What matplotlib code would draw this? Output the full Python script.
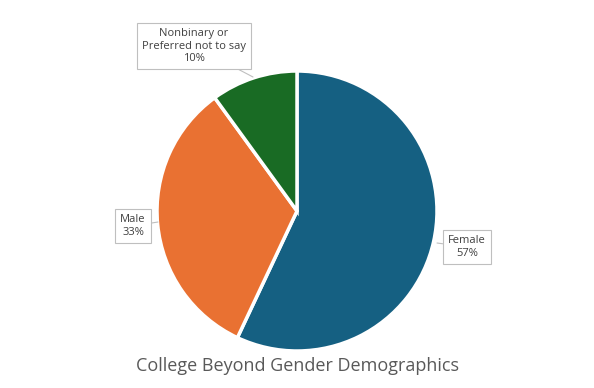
"""Pie chart: College Beyond gender demographics."""
import matplotlib.pyplot as plt

plt.rcParams["font.family"] = ["Open Sans", "DejaVu Sans"]

categories = ["Female", "Male", "Nonbinary or\nPreferred not to say"]
shares = [57, 33, 10]
colors = ["#156082", "#E97132", "#196B24"]

# label box centres (pixel coords, y from bottom) and the edge point they point to
label_pos = [(467, 141), (133, 162), (194, 342)]
point_to = [(437, 145), (158, 166), (253, 311)]

W, H = 594, 388
fig = plt.figure(figsize=(W / 100, H / 100), dpi=100)
ax = fig.add_axes([0, 0, 1, 1])

ax.pie(
    shares, colors=colors, startangle=90, counterclock=False,
    center=(297, 177), radius=140, frame=True,
    wedgeprops=dict(edgecolor="white", linewidth=2.5),
)
ax.set_xlim(0, W)
ax.set_ylim(0, H)
ax.set_aspect("equal")
ax.axis("off")

for name, val, (tx, ty), (px, py) in zip(categories, shares, label_pos, point_to):
    ax.annotate(
        f"{name}\n{val}%", xy=(px, py), xytext=(tx, ty),
        ha="center", va="center", fontsize=8, color="#404040",
        linespacing=1.2,
        bbox=dict(boxstyle="square,pad=0.45", fc="white", ec="#BFBFBF", lw=0.8),
        arrowprops=dict(arrowstyle="-", color="#BFBFBF", lw=0.8, shrinkA=0, shrinkB=0),
    )

ax.text(W / 2, 388 - 366, "College Beyond Gender Demographics",
        ha="center", va="center", fontsize=13, color="#595959")

fig.savefig("out.png", dpi=100)
